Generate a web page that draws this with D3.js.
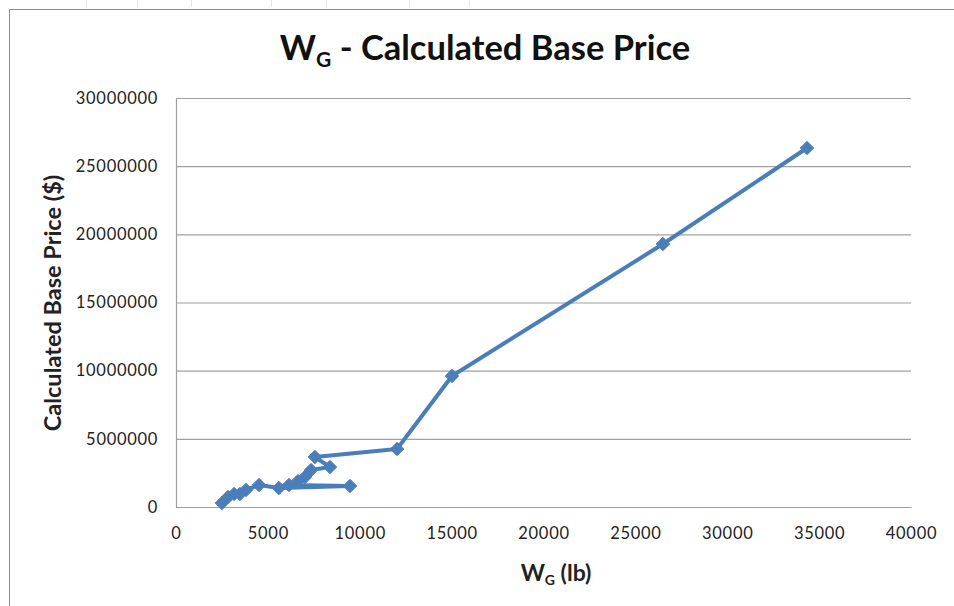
<!DOCTYPE html>
<html><head><meta charset="utf-8">
<script src="https://cdn.jsdelivr.net/npm/d3@7"></script>
<style>body{margin:0;background:#fff;} svg{display:block;}</style>
</head><body>
<svg id="c" width="954" height="606"></svg>
<script>
const weightsLb = [2500, 2830, 3160, 3480, 3810, 4520, 5600, 9470, 6150, 6640, 7020, 7350, 8380, 7560, 12030, 15020, 26500, 34340];
const basePrice = [293000, 733000, 954000, 954000, 1250000, 1610000, 1390000, 1540000, 1610000, 1900000, 2200000, 2710000, 2930000, 3670000, 4250000, 9610000, 19290000, 26330000];
const xTicks = [0, 5000, 10000, 15000, 20000, 25000, 30000, 35000, 40000];
const yTicks = [0, 5000000, 10000000, 15000000, 20000000, 25000000, 30000000];

const svg = d3.select("#c");
const font = "Lato, 'Open Sans', sans-serif";
const L = 176, R = 911, T = 98, B = 507;
const x = d3.scaleLinear().domain([0, 40000]).range([L, R]);
const y = d3.scaleLinear().domain([0, 30000000]).range([B, T]);

// outer chart border
svg.append("path").attr("d", "M9.5,606 V9.5 H954").attr("fill", "none").attr("stroke", "#8c8c8c").attr("stroke-width", 1);
[86, 137, 191, 271, 326, 409, 469].forEach(px => {
  svg.append("line").attr("x1", px + 0.5).attr("x2", px + 0.5).attr("y1", 0).attr("y2", 7).attr("stroke", "#e6e6e6");
});

// gridlines
const yAxis = d3.axisLeft(y).tickValues(yTicks).tickFormat(d3.format("d")).tickSize(-(R - L)).tickPadding(18);
const gy = svg.append("g").attr("transform", `translate(${L},0)`).call(yAxis);
gy.select(".domain").attr("stroke", "#a0a0a0").attr("stroke-width", 1.2);
gy.selectAll(".tick line").attr("stroke", "#a0a0a0").attr("stroke-width", 1.2);
gy.selectAll("text").attr("font-family", font).attr("font-size", 16.5).attr("letter-spacing", 0.7).attr("fill", "#222");

const xAxis = d3.axisBottom(x).tickValues(xTicks).tickFormat(d3.format("d")).tickSize(0).tickPadding(20);
const gx = svg.append("g").attr("transform", `translate(0,${B})`).call(xAxis);
gx.select(".domain").attr("stroke", "#a0a0a0").attr("stroke-width", 1.2);
gx.selectAll("text").attr("font-family", font).attr("font-size", 16.5).attr("letter-spacing", 0.7).attr("fill", "#222");

// series
const pts = weightsLb.map((w, i) => [w, basePrice[i]]);
const blue = "#4a7ebb";
svg.append("path").datum(pts)
  .attr("d", d3.line().x(d => x(d[0])).y(d => y(d[1])))
  .attr("fill", "none").attr("stroke", blue).attr("stroke-width", 4).attr("stroke-linejoin", "round");
const sym = d3.symbol().type(d3.symbolDiamond2).size(115);
svg.selectAll(".m").data(pts).join("path")
  .attr("transform", d => `translate(${x(d[0])},${y(d[1])})`)
  .attr("d", sym).attr("fill", blue).attr("stroke", blue);

// title
const t = svg.append("text").attr("x", 485).attr("y", 60).attr("text-anchor", "middle")
  .attr("font-family", font).attr("font-weight", "bold").attr("font-size", 34.5).attr("fill", "#111");
t.append("tspan").text("W");
t.append("tspan").attr("font-size", 21).attr("dy", 7).text("G");
t.append("tspan").attr("dy", -7).text(" - Calculated Base Price");

// x title
const xt = svg.append("text").attr("x", 556).attr("y", 581).attr("text-anchor", "middle")
  .attr("font-family", font).attr("font-weight", "bold").attr("font-size", 23).attr("fill", "#222");
xt.append("tspan").text("W");
xt.append("tspan").attr("font-size", 14).attr("dy", 4).text("G");
xt.append("tspan").attr("dy", -4).text(" (lb)");

// y title
svg.append("text").attr("transform", "translate(61,303) rotate(-90)").attr("text-anchor", "middle")
  .attr("font-family", font).attr("font-weight", "bold").attr("font-size", 23.5).attr("fill", "#222")
  .text("Calculated Base Price ($)");
</script>
</body></html>
